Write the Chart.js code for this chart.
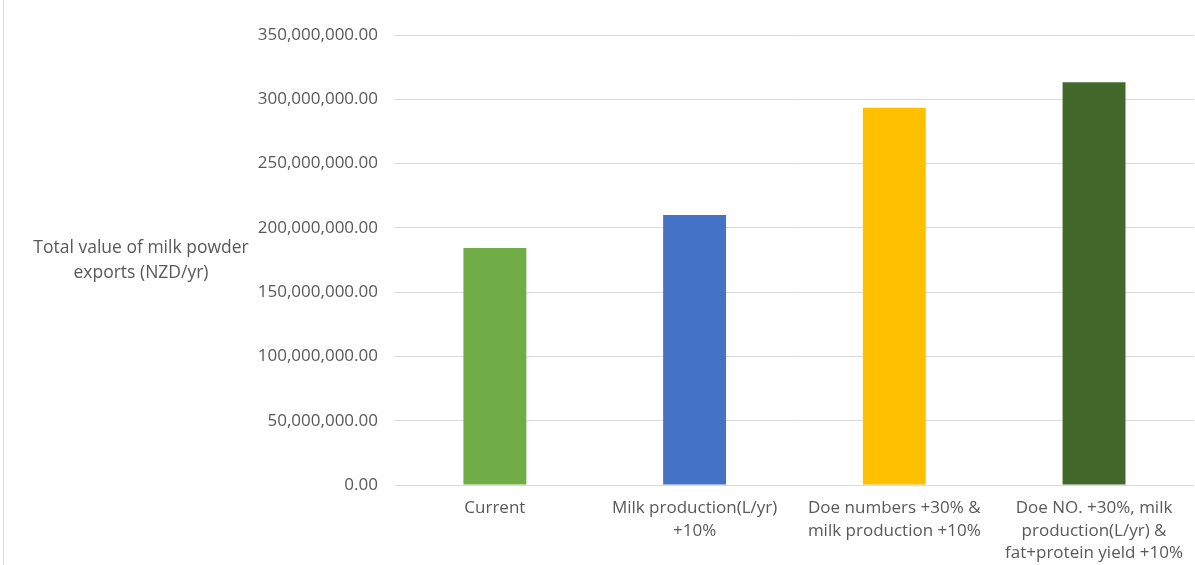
<!DOCTYPE html>
<html>
<head>
<meta charset="utf-8">
<script src="https://cdn.jsdelivr.net/npm/chart.js@4"></script>
<style>
  html, body { margin: 0; padding: 0; background: #fff; }
  #wrap { position: relative; width: 1195px; height: 565px; }
</style>
</head>
<body>
<div id="wrap"><canvas id="chart" width="1195" height="565"></canvas></div>
<script>
const categories = [
    "Current",
    ["Milk production(L/yr)", "+10%"],
    ["Doe numbers +30% &", "milk production +10%"],
    ["Doe NO. +30%, milk", "production(L/yr) &", "fat+protein yield +10%"]
];
const exportValues = [184300000, 210000000, 293500000, 313200000];
const barColors = ['#70AD47', '#4472C4', '#FFC000', '#43682B'];
const yTitleLines = ["Total value of milk powder", "exports (NZD/yr)"];
const yMax = 350000000;
const yStep = 50000000;

const textColor = '#595959';
const fontFamily = '"Open Sans", sans-serif';

// horizontal y-axis title and the thin frame line at the left
const decorPlugin = {
    id: 'decor',
    afterDraw(chart) {
        const ctx = chart.ctx;
        ctx.save();
        ctx.strokeStyle = '#d9d9d9';
        ctx.lineWidth = 1;
        ctx.beginPath();
        ctx.moveTo(3.5, 0);
        ctx.lineTo(3.5, chart.height);
        ctx.stroke();

        ctx.fillStyle = textColor;
        ctx.font = '17.5px ' + fontFamily;
        ctx.textAlign = 'center';
        ctx.textBaseline = 'middle';
        const y0 = chart.scales.y.getPixelForValue(200000000) + 20;
        yTitleLines.forEach((line, i) => {
            ctx.fillText(line, 141, y0 + i * 25);
        });
        ctx.restore();
    }
};

new Chart(document.getElementById('chart'), {
    type: 'bar',
    data: {
        labels: categories,
        datasets: [{
            data: exportValues,
            backgroundColor: barColors,
            barPercentage: 0.315,
            categoryPercentage: 1
        }]
    },
    options: {
        responsive: false,
        animation: false,
        layout: { padding: { top: 35, right: 0, left: 0, bottom: 0 } },
        plugins: {
            legend: { display: false },
            tooltip: { enabled: false }
        },
        scales: {
            y: {
                min: 0,
                max: yMax,
                afterFit: s => { s.width = 395; },
                ticks: {
                    stepSize: yStep,
                    padding: 17,
                    color: textColor,
                    font: { family: fontFamily, size: 17 },
                    callback: v => v.toLocaleString('en-US', { minimumFractionDigits: 2, maximumFractionDigits: 2 })
                },
                grid: { color: '#d9d9d9', drawTicks: false },
                border: { display: false }
            },
            x: {
                afterFit: s => { s.height = 80; },
                ticks: {
                    padding: 12,
                    maxRotation: 0,
                    autoSkip: false,
                    color: textColor,
                    font: { family: fontFamily, size: 17, lineHeight: 1.32 }
                },
                grid: { display: false, drawTicks: false },
                border: { color: '#d9d9d9' }
            }
        }
    },
    plugins: [decorPlugin]
});
</script>
</body>
</html>
